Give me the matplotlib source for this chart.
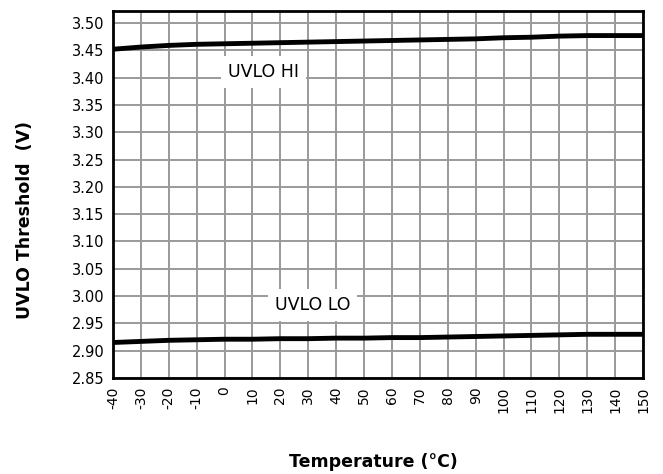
import numpy as np
import matplotlib.pyplot as plt

# temperature axis (deg C) and measured thresholds (V)
temp = [-40, -30, -20, -10, 0, 10, 20, 30, 40, 50, 60, 70, 80, 90, 100, 110, 120, 130, 140, 150]
uvlo_hi = [3.452, 3.456, 3.459, 3.461, 3.462, 3.463, 3.464, 3.465, 3.466, 3.467,
           3.468, 3.469, 3.470, 3.471, 3.473, 3.474, 3.476, 3.477, 3.477, 3.477]
uvlo_lo = [2.915, 2.917, 2.919, 2.920, 2.921, 2.921, 2.922, 2.922, 2.923, 2.923,
           2.924, 2.924, 2.925, 2.926, 2.927, 2.928, 2.929, 2.930, 2.930, 2.930]
y_ticks = [2.85, 2.90, 2.95, 3.00, 3.05, 3.10, 3.15, 3.20, 3.25, 3.30, 3.35, 3.40, 3.45, 3.50]

fig = plt.figure(figsize=(6.63, 4.74), dpi=100)
ax = fig.add_axes([113/663, 1 - 378/474, 530/663, 367/474])

# grid
ax.set_xticks(temp)
ax.set_yticks(y_ticks)
ax.grid(True, color='#9a9a9a', linewidth=1.4)
ax.set_axisbelow(True)

ax.plot(temp, uvlo_hi, color='black', linewidth=3.5, solid_capstyle='butt')
ax.plot(temp, uvlo_lo, color='black', linewidth=3.5, solid_capstyle='butt')

ax.set_xlim(-40, 150)
ax.set_ylim(2.85, 3.522)

ax.set_xticklabels([str(t) for t in temp], rotation=90, fontsize=10)
ax.set_yticklabels(['%.2f' % v for v in y_ticks], fontsize=10.5)
ax.tick_params(length=0, pad=6)

for s in ax.spines.values():
    s.set_linewidth(2)
    s.set_color('black')

bbox = dict(facecolor='white', edgecolor='none', pad=5)
ax.text(14, 3.41, 'UVLO HI', fontsize=12.5, ha='center', va='center', bbox=bbox)
ax.text(31.5, 2.983, 'UVLO LO', fontsize=12.5, ha='center', va='center', bbox=bbox)

fig.text(25/663, 1 - 220/474, 'UVLO Threshold  (V)', fontsize=12.5, fontweight='bold',
         rotation=90, ha='center', va='center')
fig.text(373/663, 1 - 462/474, 'Temperature (\u00b0C)', fontsize=12.5,
         fontweight='bold', ha='center', va='center')

fig.savefig('out.png', dpi=100)
